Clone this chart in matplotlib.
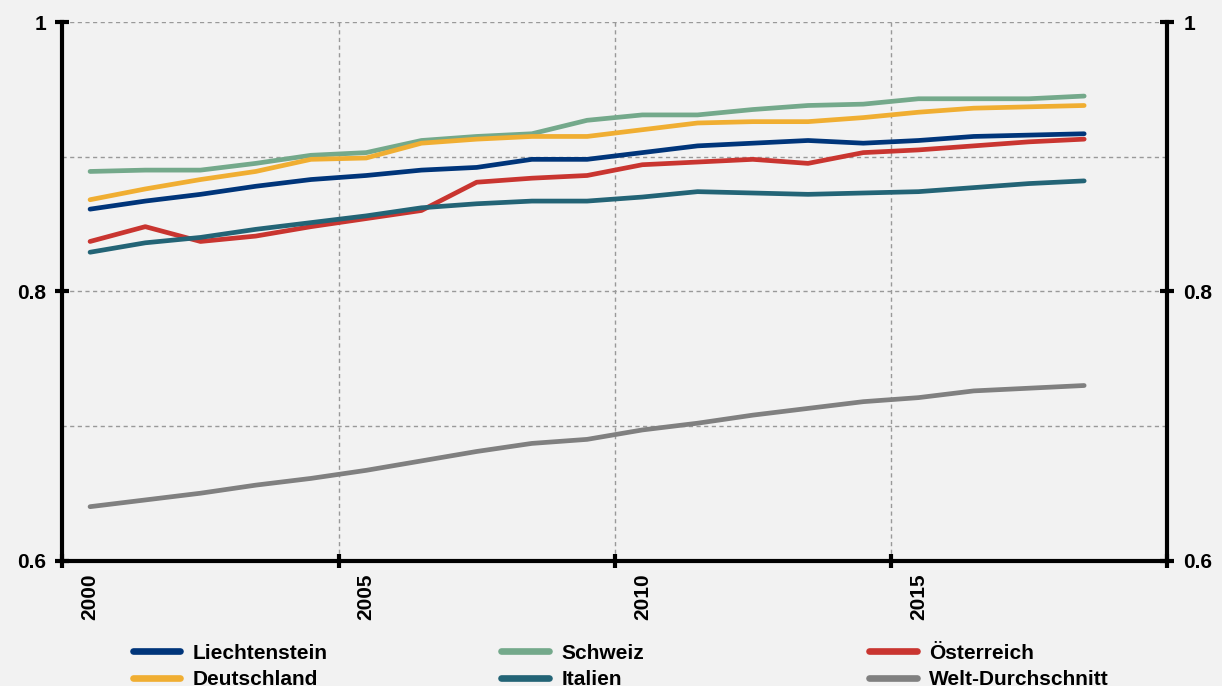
import matplotlib
matplotlib.use("Agg")
import matplotlib.pyplot as plt
from matplotlib.lines import Line2D

# values (HDI, 2000-2018)
years = list(range(2000, 2019))
label_years = [2000, 2005, 2010, 2015]

liechtenstein = [0.861, 0.867, 0.872, 0.878, 0.883, 0.886, 0.890, 0.892, 0.898, 0.898,
                 0.903, 0.908, 0.910, 0.912, 0.910, 0.912, 0.915, 0.916, 0.917]
schweiz = [0.889, 0.890, 0.890, 0.895, 0.901, 0.903, 0.912, 0.915, 0.917, 0.927,
           0.931, 0.931, 0.935, 0.938, 0.939, 0.943, 0.943, 0.943, 0.945]
oesterreich = [0.837, 0.848, 0.837, 0.841, 0.848, 0.854, 0.860, 0.881, 0.884, 0.886,
               0.894, 0.896, 0.898, 0.895, 0.903, 0.905, 0.908, 0.911, 0.913]
deutschland = [0.868, 0.876, 0.883, 0.889, 0.898, 0.899, 0.910, 0.913, 0.915, 0.915,
               0.920, 0.925, 0.926, 0.926, 0.929, 0.933, 0.936, 0.937, 0.938]
italien = [0.829, 0.836, 0.840, 0.846, 0.851, 0.856, 0.862, 0.865, 0.867, 0.867,
           0.870, 0.874, 0.873, 0.872, 0.873, 0.874, 0.877, 0.880, 0.882]
welt = [0.640, 0.645, 0.650, 0.656, 0.661, 0.667, 0.674, 0.681, 0.687, 0.690,
        0.697, 0.702, 0.708, 0.713, 0.718, 0.721, 0.726, 0.728, 0.730]

colors = {
    "Liechtenstein": "#00357A",
    "Schweiz": "#74A98B",
    "Österreich": "#C93530",
    "Deutschland": "#F0AE32",
    "Italien": "#236476",
    "Welt-Durchschnitt": "#808080",
}

plt.rcParams['font.family'] = ['Liberation Sans', 'DejaVu Sans']
plt.rcParams['font.weight'] = 'bold'

bg = '#F2F2F2'
fig = plt.figure(figsize=(12.22, 6.86), dpi=100, facecolor=bg)
ax = fig.add_axes([0.0511, 0.1829, 0.9039, 0.785])
ax.set_facecolor(bg)

# drawing order (later on top)
draw = [("Welt-Durchschnitt", welt), ("Österreich", oesterreich), ("Italien", italien),
        ("Schweiz", schweiz), ("Deutschland", deutschland), ("Liechtenstein", liechtenstein)]
for name, vals in draw:
    ax.plot(years, vals, color=colors[name], lw=3.4, solid_capstyle='round',
            solid_joinstyle='round', zorder=3)

ax.set_xlim(1999.5, 2019.5)
ax.set_ylim(0.6, 1.0)

ax.set_xticks([1999.5 + 5 * i for i in range(5)])
ax.set_xticks(label_years, minor=True)
ax.set_xticklabels([str(y) for y in label_years], minor=True, rotation=90)
ax.tick_params(axis='x', which='major', direction='inout', length=9.4, width=3,
               labelbottom=False)
ax.tick_params(axis='x', which='minor', length=0, pad=9, labelsize=15)

ax.set_yticks([0.6, 0.8, 1.0])
ax.set_yticklabels(['0.6', '0.8', '1'])
ax.set_yticks([0.7, 0.9], minor=True)
ax.tick_params(axis='y', which='major', direction='inout', length=9.4, width=3,
               left=True, right=True, labelleft=True, labelright=True,
               labelsize=15, pad=7)
ax.tick_params(axis='y', which='minor', length=0, left=False, right=False)

ax.xaxis.grid(True, which='major', color='#999999', lw=1, ls=(0, (3, 2.5)))
ax.yaxis.grid(True, which='both', color='#999999', lw=1, ls=(0, (3, 2.5)))
ax.set_axisbelow(True)

ax.spines['top'].set_visible(False)
for s in ['left', 'right', 'bottom']:
    ax.spines[s].set_linewidth(3)
    ax.spines[s].set_color('black')

# legend: three columns placed like the original
legend_cols = [(["Liechtenstein", "Deutschland"], 0.1087),
               (["Schweiz", "Italien"], 0.4101),
               (["Österreich", "Welt-Durchschnitt"], 0.7114)]
for names, x in legend_cols:
    handles = [Line2D([], [], color=colors[n], lw=4.8, solid_capstyle='round') for n in names]
    fig.legend(handles, names, loc='upper left', bbox_to_anchor=(x, 0.0617),
               frameon=False, fontsize=15, handlelength=2.28, handletextpad=0.6,
               labelspacing=0.36, borderpad=0, borderaxespad=0)

fig.savefig('out.png', dpi=100, facecolor=bg)
